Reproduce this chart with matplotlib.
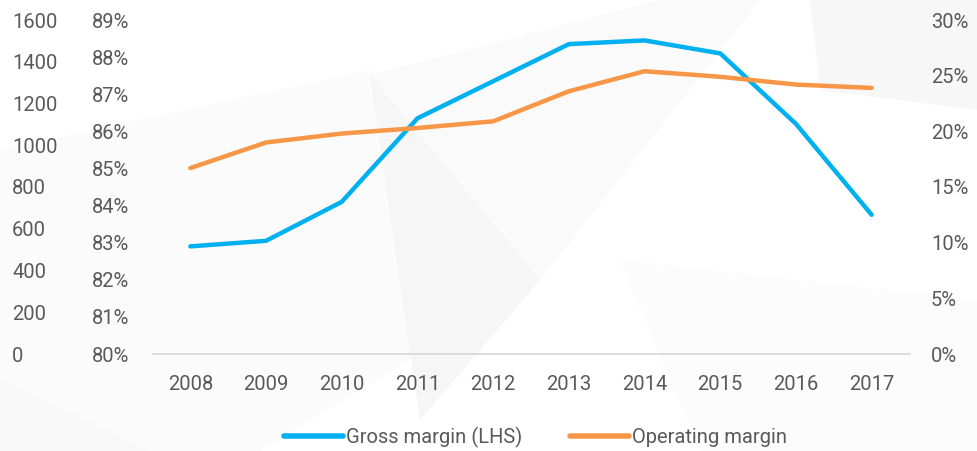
import matplotlib.pyplot as plt
from matplotlib.patches import Polygon
from matplotlib.lines import Line2D
import numpy as np

years = ['2008', '2009', '2010', '2011', '2012', '2013', '2014', '2015', '2016', '2017']
gross_margin = [82.9, 83.05, 84.1, 86.35, 87.35, 88.35, 88.45, 88.1, 86.2, 83.75]
operating_margin = [16.7, 19.0, 19.8, 20.3, 20.9, 23.6, 25.4, 24.9, 24.2, 23.9]

left_ticks = [0, 200, 400, 600, 800, 1000, 1200, 1400, 1600]
gross_ticks = list(range(80, 90))
op_ticks = [0, 5, 10, 15, 20, 25, 30]

BLUE = '#00B0F0'
ORANGE = '#F79646'
GREY = '#595959'

plt.rcParams['font.family'] = ['Roboto', 'DejaVu Sans']
plt.rcParams['font.size'] = 14

W, H = 977, 451
fig = plt.figure(figsize=(W / 100, H / 100), dpi=100)
fig.patch.set_facecolor('white')

# faint background shapes, drawn on a bottom axes (pixel coords, y from top)
bg = fig.add_axes([0, 0, 1, 1], zorder=-10)
bg.set_xlim(0, W)
bg.set_ylim(H, 0)
bg.axis('off')
shapes = [
    ([(0, 150), (370, 70), (540, 280), (260, 451), (0, 451)], '#fbfbfb'),
    ([(370, 75), (660, 0), (760, 0), (540, 280)], '#fafafa'),
    ([(370, 75), (540, 280), (420, 420)], '#f6f6f6'),
    ([(810, 0), (977, 0), (977, 110), (820, 90)], '#f7f7f7'),
    ([(0, 380), (150, 451), (0, 451)], '#f8f8f8'),
    ([(620, 260), (977, 300), (977, 451), (700, 451)], '#fcfcfc'),
]
for pts, c in shapes:
    bg.add_patch(Polygon(pts, closed=True, facecolor=c, edgecolor='none'))

ax_left = 152.5 / W
ax_right = 909.5 / W
ax_top = 1 - 20 / H
ax_bot = 1 - 354 / H
ax = fig.add_axes([ax_left, ax_bot, ax_right - ax_left, ax_top - ax_bot])
ax.patch.set_alpha(0)

x = np.arange(len(years))

# gross margin on middle axis (80%-89%)
ax.plot(x, gross_margin, color=BLUE, lw=3.2, solid_capstyle='round', zorder=3)
ax.set_xlim(-0.5, len(years) - 0.5)
ax.set_ylim(80, 89)
ax.set_yticks(gross_ticks)
ax.set_yticklabels([f'{t}%' for t in gross_ticks])
ax.set_xticks(x)
ax.set_xticklabels(years)
ax.tick_params(axis='y', length=0, pad=16.5, colors=GREY, labelsize=14.5)
ax.tick_params(axis='x', length=0, pad=15, colors=GREY, labelsize=14.5)

# operating margin on right axis
ax2 = ax.twinx()
ax2.patch.set_alpha(0)
ax2.plot(x, operating_margin, color=ORANGE, lw=3.2, solid_capstyle='round', zorder=3)
ax2.set_ylim(0, 30)
ax2.set_yticks(op_ticks)
ax2.set_yticklabels([f'{t}%' for t in op_ticks])
ax2.tick_params(axis='y', length=0, pad=15.5, colors=GREY, labelsize=14.5)

# extra left axis 0-1600
ax3 = ax.twinx()
ax3.patch.set_alpha(0)
ax3.yaxis.tick_left()
ax3.set_ylim(0, 1600)
ax3.set_yticks(left_ticks)
ax3.tick_params(axis='y', length=0, pad=101, colors=GREY, labelsize=14.5)
for lab in ax3.get_yticklabels():
    lab.set_horizontalalignment('left')

for a in (ax, ax2, ax3):
    for s in a.spines.values():
        s.set_visible(False)
ax.spines['bottom'].set_visible(True)
ax.spines['bottom'].set_color('#d9d9d9')
ax.spines['bottom'].set_linewidth(1.3)

handles = [Line2D([], [], color=BLUE, lw=4, solid_capstyle='round'),
           Line2D([], [], color=ORANGE, lw=4, solid_capstyle='round')]
leg = fig.legend(handles, ['Gross margin (LHS)', 'Operating margin'],
                 loc='center', bbox_to_anchor=(0.548, 0.031), ncol=2,
                 frameon=False, handlelength=2.9, handletextpad=0.15,
                 columnspacing=2.4, fontsize=14.5)
for t in leg.get_texts():
    t.set_color(GREY)

fig.savefig('out.png', dpi=100, facecolor='white')
